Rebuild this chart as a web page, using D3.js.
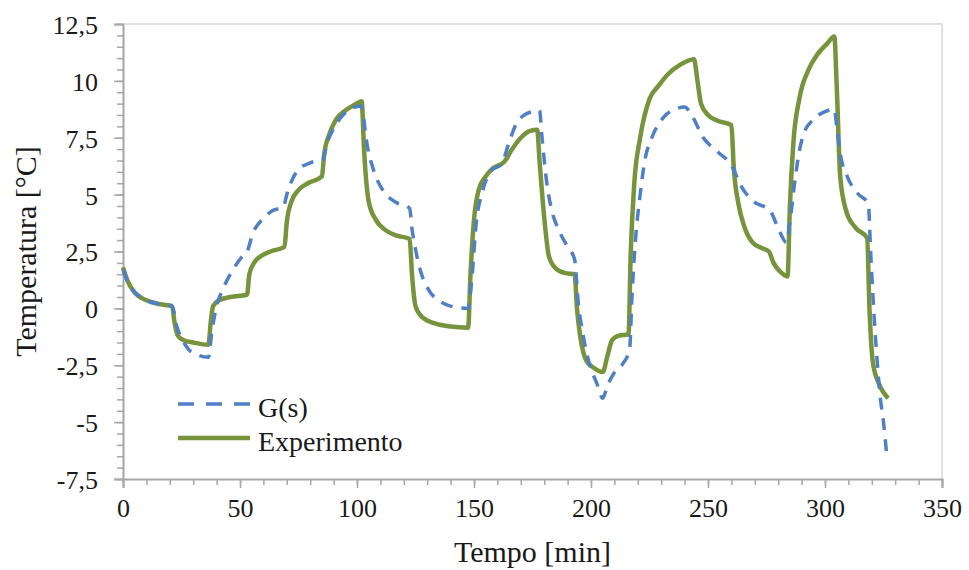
<!DOCTYPE html>
<html>
<head>
<meta charset="utf-8">
<script src="https://cdn.jsdelivr.net/npm/d3@7"></script>
<style>
  body { margin: 0; background: #fff; }
  svg { display: block; font-family: "Liberation Serif", "Times New Roman", serif; }
</style>
</head>
<body>
<svg id="chart" width="969" height="570"></svg>
<script>
// Experimento (measured)
const expTime = [0, 2, 5, 8, 12, 16, 21, 22, 23.5, 26, 30, 36.5, 37.5, 38.5, 41, 46, 53, 54, 56, 59, 63, 69,
  70, 72, 75, 79, 85, 86, 88, 91, 95, 99, 102, 103, 105, 108, 112, 117, 122.5, 123.5, 125, 128, 133, 140, 147.5,
  148.5, 150, 152, 155, 158, 163, 166, 170, 174, 177, 178, 180, 182, 185, 189, 193, 194, 195.5, 198, 201, 205,
  207, 209, 212, 216, 217, 218.5, 221, 225, 229, 233, 238, 244, 245.5, 247, 250, 254, 260, 261, 263, 265.5, 269,
  273, 276, 278, 281, 284, 285, 286.5, 289, 293, 297, 301, 304, 305, 306.5, 309, 313, 318, 319, 320.5, 323, 325, 327];
const expTemp = [1.8, 1.2, 0.7, 0.45, 0.28, 0.18, 0.1, -0.6, -1.2, -1.4, -1.5, -1.6, -0.6, 0.1, 0.35, 0.5, 0.6, 1.5, 2.0, 2.3, 2.5, 2.7,
  3.8, 4.7, 5.2, 5.5, 5.8, 6.8, 7.6, 8.3, 8.7, 8.95, 9.1, 7.0, 4.7, 3.9, 3.45, 3.2, 3.05, 1.5, 0.1, -0.4, -0.65, -0.8, -0.85,
  1.5, 3.9, 5.2, 5.8, 6.15, 6.45, 6.95, 7.5, 7.8, 7.85, 6.5, 4.0, 2.3, 1.75, 1.55, 1.5, 0.0, -1.3, -2.3, -2.6, -2.8,
  -2.1, -1.4, -1.2, -1.15, 2.5, 5.5, 7.5, 9.2, 9.8, 10.3, 10.7, 10.95, 10.0, 9.0, 8.5, 8.25, 8.05, 6.2, 4.6, 3.6, 2.9,
  2.65, 2.5, 2.0, 1.6, 1.4, 4.5, 7.3, 9.2, 10.5, 11.2, 11.65, 11.95, 9.8, 5.8, 4.3, 3.55, 3.1, 0.0, -2.4, -3.3, -3.7, -3.95];

// G(s) (model)
const gTime = [0, 2, 5, 8, 12, 16, 21, 23, 25.5, 28, 32, 36.5, 38, 40, 42.5, 47, 52, 53, 55.5, 60, 64, 68.5,
  70, 72.5, 75, 80, 85.5, 87, 90, 94, 98, 101.5, 102.5, 104, 107, 111, 116, 122.5, 123.5, 125, 127, 131, 135, 140, 147.5,
  149, 151, 153.5, 157, 162, 165, 168, 171.5, 175, 178, 179, 181, 183.5, 186, 190, 193, 194.5, 196.5, 199.5, 202.5, 205,
  207, 209.5, 213.5, 216.5, 217.5, 219, 221, 223, 226, 231, 236, 240, 243.5, 248, 254, 260.5, 264, 269.5, 276.5, 280.5, 283.5,
  285, 287, 289, 291, 295, 300, 304, 305, 306.5, 309.5, 314, 318.5, 319.5, 320.5, 322, 323.5, 325, 326.5];
const gTemp = [1.7, 1.15, 0.7, 0.45, 0.28, 0.18, 0.1, -0.8, -1.4, -1.8, -2.05, -2.15, -1.0, 0.1, 0.8, 1.7, 2.4, 2.5, 3.3, 3.95, 4.3, 4.45,
  5.0, 5.7, 6.1, 6.4, 6.55, 7.2, 7.9, 8.5, 8.8, 8.9, 8.6, 7.4, 6.1, 5.2, 4.7, 4.4, 3.5, 2.6, 1.7, 0.75, 0.35, 0.1, 0.0,
  1.2, 3.8, 5.1, 6.0, 6.4, 7.3, 8.1, 8.5, 8.65, 8.7, 7.6, 5.6, 4.2, 3.5, 2.7, 2.15, 0.3, -1.1, -2.5, -3.3, -3.95,
  -3.4, -2.9, -2.45, -1.8, 0.5, 3.0, 5.0, 6.5, 7.5, 8.4, 8.75, 8.85, 8.4, 7.5, 6.9, 6.2, 5.4, 4.7, 4.3, 3.4, 2.9,
  3.8, 5.5, 6.9, 7.7, 8.3, 8.65, 8.75, 8.0, 6.8, 5.8, 5.05, 4.6, 2.5, 0.5, -1.9, -3.8, -5.0, -6.6];

const xMajorTicks = [0, 50, 100, 150, 200, 250, 300, 350];
const yMajorTicks = [-7.5, -5, -2.5, 0, 2.5, 5, 7.5, 10, 12.5];
const seriesNames = ["G(s)", "Experimento"];

const W = 969, H = 570;
const margin = { top: 24, right: 27, bottom: 91, left: 123 };
const innerW = W - margin.left - margin.right;
const innerH = H - margin.top - margin.bottom;

const locale = d3.formatLocale({ decimal: ",", thousands: ".", grouping: [3], currency: ["", ""], minus: "-" });
const fmt = locale.format("~f");

const svg = d3.select("#chart");
const root = svg.append("g").attr("transform", `translate(${margin.left},${margin.top})`);

const x = d3.scaleLinear().domain([0, 350]).range([0, innerW]);
const y = d3.scaleLinear().domain([-7.5, 12.5]).range([innerH, 0]);

// plot frame (top + right)
root.append("path")
  .attr("d", `M0,0H${innerW}V${innerH}`)
  .attr("fill", "none")
  .attr("stroke", "#d9d9d9")
  .attr("stroke-width", 1.5);

const axisColor = "#a6a6a6";

// minor ticks
root.append("g")
  .attr("transform", `translate(0,${innerH})`)
  .call(d3.axisBottom(x).tickValues(d3.range(0, 351, 10)).tickSize(6).tickFormat(""))
  .call((g) => g.select(".domain").remove());
root.append("g")
  .call(d3.axisLeft(y).tickValues(d3.range(-7.5, 12.51, 0.5)).tickSize(6).tickFormat(""))
  .call((g) => g.select(".domain").remove());

// major axes
const xAxis = root.append("g")
  .attr("transform", `translate(0,${innerH})`)
  .call(d3.axisBottom(x).tickValues(xMajorTicks).tickSize(9).tickPadding(11).tickFormat(fmt));
const yAxis = root.append("g")
  .call(d3.axisLeft(y).tickValues(yMajorTicks).tickSize(9).tickPadding(16).tickFormat(fmt));

root.selectAll(".tick line").attr("stroke", axisColor).attr("stroke-width", 1.5);
root.selectAll(".domain").attr("stroke", axisColor).attr("stroke-width", 2);
root.selectAll(".tick text")
  .attr("font-family", "Liberation Serif, serif")
  .attr("font-size", 26)
  .attr("fill", "#1a1a1a");
yAxis.selectAll(".tick text").attr("dy", "0.36em");

// series
const line = d3.line().x((d) => x(d[0])).y((d) => y(d[1])).curve(d3.curveMonotoneX);

const gSeries = d3.zip(gTime, gTemp);
const expSeries = d3.zip(expTime, expTemp);

root.append("path")
  .datum(expSeries)
  .attr("d", line)
  .attr("fill", "none")
  .attr("stroke", "#77933c")
  .attr("stroke-width", 4.5)
  .attr("stroke-linejoin", "round");

root.append("path")
  .datum(gSeries)
  .attr("d", line)
  .attr("fill", "none")
  .attr("stroke", "#4f7fc4")
  .attr("stroke-width", 3.5)
  .attr("stroke-dasharray", "12,9");

// legend
const legend = svg.append("g").attr("transform", "translate(178,404)");
const legendStyles = [
  { stroke: "#4f7fc4", width: 3.5, dash: "16,12" },
  { stroke: "#77933c", width: 4.5, dash: null },
];
seriesNames.forEach((name, i) => {
  const row = legend.append("g").attr("transform", `translate(0,${i * 34})`);
  row.append("line")
    .attr("x1", 0).attr("x2", 72).attr("y1", 0).attr("y2", 0)
    .attr("stroke", legendStyles[i].stroke)
    .attr("stroke-width", legendStyles[i].width)
    .attr("stroke-dasharray", legendStyles[i].dash);
  row.append("text")
    .attr("x", 80).attr("y", 13)
    .attr("font-size", 28)
    .attr("fill", "#1a1a1a")
    .text(name);
});

// axis titles
svg.append("text")
  .attr("x", margin.left + innerW / 2)
  .attr("y", 562)
  .attr("text-anchor", "middle")
  .attr("font-size", 30)
  .attr("fill", "#1a1a1a")
  .text("Tempo [min]");

svg.append("text")
  .attr("transform", `translate(36,${margin.top + innerH / 2}) rotate(-90)`)
  .attr("text-anchor", "middle")
  .attr("font-size", 30)
  .attr("fill", "#1a1a1a")
  .text("Temperatura [°C]");
</script>
</body>
</html>
